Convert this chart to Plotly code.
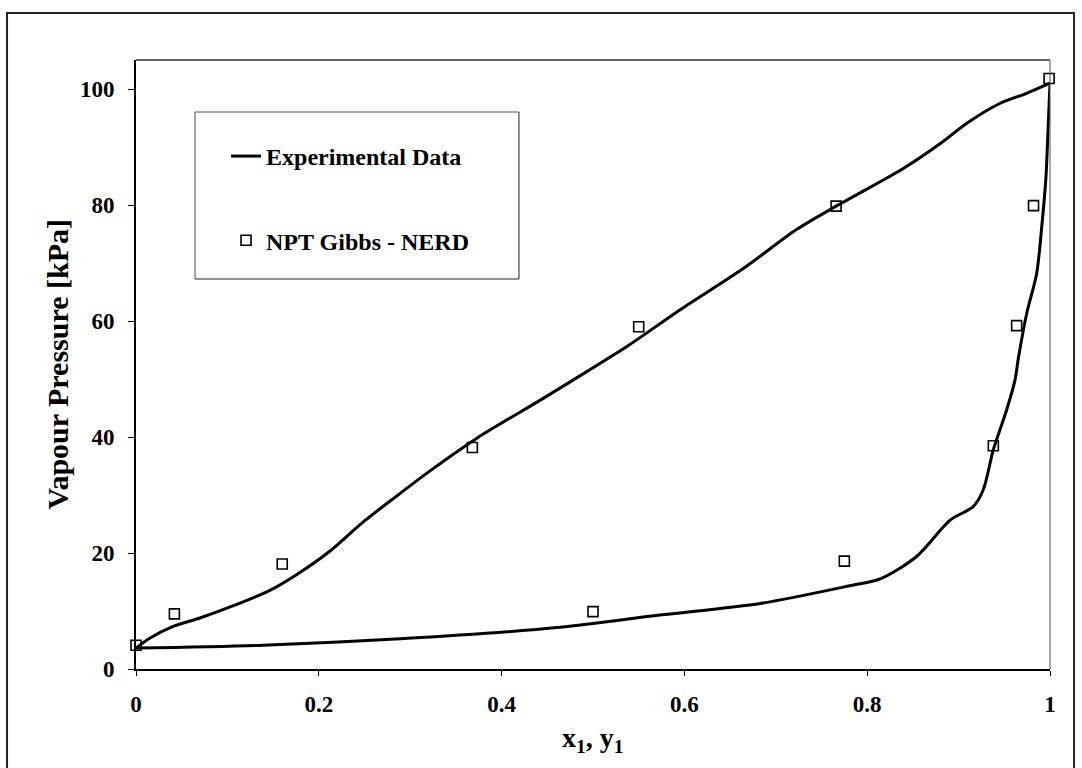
import plotly.graph_objects as go

# ---------------- data ----------------
# Experimental bubble curve: liquid mole fraction x1 vs pressure
x_liquid_exp = [0.0, 0.015, 0.040, 0.070, 0.103, 0.147, 0.176, 0.212, 0.249, 0.285,
                0.322, 0.373, 0.446, 0.515, 0.540, 0.595, 0.664, 0.723, 0.766,
                0.8395, 0.880, 0.909, 0.945, 0.975, 1.0]
p_liquid_exp = [3.6, 5.3, 7.3, 8.8, 10.7, 13.6, 16.3, 20.3, 25.4, 29.8,
                34.2, 39.8, 46.7, 53.4, 55.9, 61.9, 69.0, 75.8, 79.8,
                86.3, 90.6, 94.1, 97.5, 99.3, 101.0]

# Experimental dew curve: vapour mole fraction y1 vs pressure
y_vapour_exp = [0.0, 0.139, 0.289, 0.464, 0.573, 0.683, 0.776, 0.815, 0.854, 0.891,
                0.916, 0.927, 0.938, 0.9526, 0.9617, 0.9654, 0.9745, 0.9854, 0.991,
                0.9956, 0.998, 1.0]
p_vapour_exp = [3.6, 4.1, 5.2, 7.2, 9.3, 11.3, 14.2, 15.6, 19.4, 25.7,
                28.0, 30.9, 37.8, 44.7, 49.8, 53.6, 61.3, 68.2, 76.3,
                84.9, 93.5, 101.0]

# NPT Gibbs - NERD simulation points
x_liquid_sim = [0.0, 0.042, 0.160, 0.368, 0.550, 0.766, 0.999]
p_liquid_sim = [4.1, 9.5, 18.1, 38.2, 59.0, 79.8, 101.8]
y_vapour_sim = [0.500, 0.775, 0.938, 0.9635, 0.982]
p_vapour_sim = [9.9, 18.6, 38.5, 59.2, 79.9]

x_ticks = [0, 0.2, 0.4, 0.6, 0.8, 1]
x_tick_labels = ["0", "0.2", "0.4", "0.6", "0.8", "1"]
y_ticks = [0, 20, 40, 60, 80, 100]
y_tick_labels = ["0", "20", "40", "60", "80", "100"]

FONT = "Liberation Serif"

fig = go.Figure()

fig.add_trace(go.Scatter(
    x=x_liquid_exp, y=p_liquid_exp, mode="lines", name="Experimental Data",
    legendgroup="exp", line=dict(color="black", width=3, shape="spline", smoothing=0.8),
))
fig.add_trace(go.Scatter(
    x=y_vapour_exp, y=p_vapour_exp, mode="lines", name="Experimental Data",
    legendgroup="exp", showlegend=False,
    line=dict(color="black", width=3, shape="spline", smoothing=0.8),
))
fig.add_trace(go.Scatter(
    x=x_liquid_sim + y_vapour_sim, y=p_liquid_sim + p_vapour_sim, mode="markers",
    name="NPT Gibbs - NERD", legendgroup="npt", cliponaxis=False,
    marker=dict(symbol="square-open", size=10, color="black", line=dict(width=1.6, color="black")),
))

axis_common = dict(
    showgrid=False, zeroline=False, showline=True, linecolor="black", linewidth=2,
    ticks="outside", tickcolor="black", tickwidth=1,
    tickfont=dict(family=FONT, size=23, color="black", weight="bold"),
)

fig.update_xaxes(range=[0, 1], tickvals=x_ticks, ticktext=x_tick_labels, ticklen=5,
                 ticklabelstandoff=8, **axis_common)
fig.update_yaxes(range=[0, 105], tickvals=y_ticks, ticktext=y_tick_labels, ticklen=6,
                 ticklabelstandoff=9, **axis_common)

shapes = [
    # outer frame
    dict(type="rect", xref="paper", yref="paper", x0=-0.1411, x1=1.0263, y0=-0.2, y1=1.0772,
         line=dict(color="#222", width=2), layer="below"),
    # top and right border of the plot area
    dict(type="line", xref="paper", yref="paper", x0=0, x1=1, y0=1, y1=1,
         line=dict(color="#333", width=1.5)),
    dict(type="line", xref="paper", yref="paper", x0=1, x1=1, y0=0, y1=1,
         line=dict(color="#555", width=1)),
    # legend box
    dict(type="rect", xref="paper", yref="paper", x0=0.0646, x1=0.419, y0=0.6404, y1=0.9146,
         fillcolor="white", line=dict(width=0), layer="below"),
    dict(type="line", xref="paper", yref="paper", x0=0.0646, x1=0.419, y0=0.9146, y1=0.9146,
         line=dict(color="#888", width=1.5)),
    dict(type="line", xref="paper", yref="paper", x0=0.0646, x1=0.0646, y0=0.6404, y1=0.9146,
         line=dict(color="#888", width=1.5)),
    dict(type="line", xref="paper", yref="paper", x0=0.419, x1=0.419, y0=0.6404, y1=0.9146,
         line=dict(color="#222", width=1)),
    dict(type="line", xref="paper", yref="paper", x0=0.0646, x1=0.419, y0=0.6404, y1=0.6404,
         line=dict(color="#222", width=1)),
]

annotations = [
    dict(text="Vapour Pressure [kPa]", xref="paper", yref="paper", x=-0.0864, y=0.5,
         xanchor="center", yanchor="middle", textangle=-90, showarrow=False,
         font=dict(family=FONT, size=30, color="black", weight="bold")),
    dict(text="x<sub>1</sub>, y<sub>1</sub>", xref="paper", yref="paper", x=0.5, y=-0.115,
         xanchor="center", yanchor="middle", showarrow=False,
         font=dict(family=FONT, size=28, color="black", weight="bold")),
]

fig.update_layout(
    width=1082, height=768,
    margin=dict(l=136, r=32, t=60, b=99, autoexpand=False),
    paper_bgcolor="white", plot_bgcolor="rgba(0,0,0,0)",
    showlegend=True,
    legend=dict(x=0.0985, y=0.8785, xanchor="left", yanchor="top",
                bgcolor="rgba(0,0,0,0)", borderwidth=0, tracegroupgap=50,
                traceorder="grouped",
                font=dict(family=FONT, size=24, color="black", weight="bold")),
    shapes=shapes, annotations=annotations,
)

fig.write_html("out.html")
